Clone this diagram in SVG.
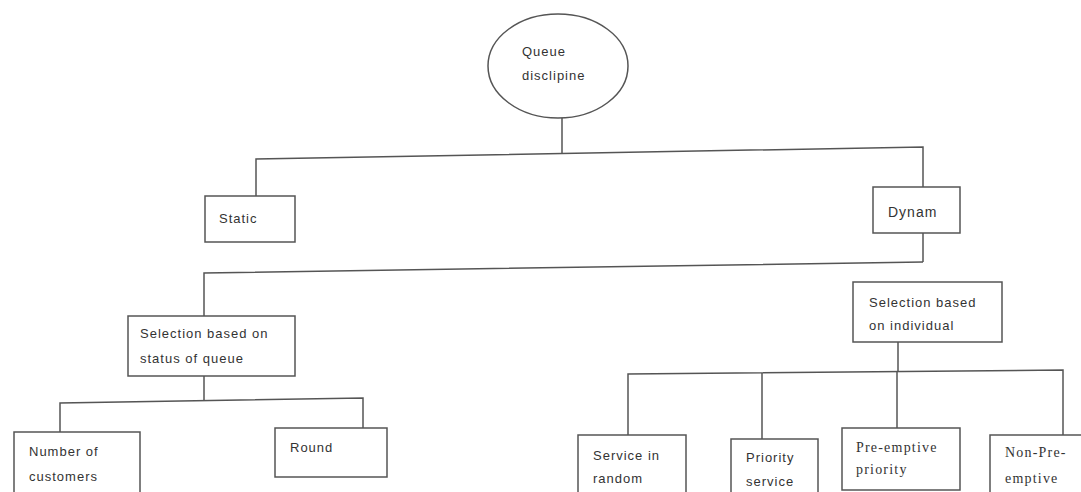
<svg xmlns="http://www.w3.org/2000/svg" width="1081" height="492" viewBox="0 0 1081 492">
<style>
.box{fill:#fff;stroke:#555;stroke-width:1.5}
.ln{fill:none;stroke:#555;stroke-width:1.5}
.t{font-family:"Liberation Sans",Arial,sans-serif;font-size:13px;letter-spacing:1px;fill:#333}
.s{font-family:"Liberation Serif","Times New Roman",serif;font-size:14px;letter-spacing:1.2px;fill:#333}
</style>
<rect width="1081" height="492" fill="#fff"/>
<g id="connectors">
<path class="ln" d="M562 118 V153"/>
<path class="ln" d="M256 196 V159 L923 147 V187"/>
<path class="ln" d="M923 233 V262"/>
<path class="ln" d="M204 316 V273 L923 262"/>
<path class="ln" d="M204 376 V401"/>
<path class="ln" d="M60 432 V403 L363 398 V428"/>
<path class="ln" d="M898 342 V372"/>
<path class="ln" d="M628 435 V374 L1063 370 V435"/>
<path class="ln" d="M762 373 V439"/>
<path class="ln" d="M897 371 V428"/>
</g>
<g id="queue-discipline">
<ellipse class="box" cx="558" cy="66" rx="70" ry="52"/>
<text class="t" x="522" y="56">Queue</text>
<text class="t" x="522" y="80">disclipine</text>
</g>
<g id="static">
<rect class="box" x="205" y="196" width="90" height="46"/>
<text class="t" x="219" y="223">Static</text>
</g>
<g id="dynam">
<rect class="box" x="873" y="187" width="87" height="46"/>
<text class="t" x="888" y="217" style="font-size:14px">Dynam</text>
</g>
<g id="selection-status">
<rect class="box" x="128" y="316" width="167" height="60"/>
<text class="t" x="140" y="338">Selection based on</text>
<text class="t" x="140" y="363">status of queue</text>
</g>
<g id="selection-individual">
<rect class="box" x="853" y="282" width="149" height="60"/>
<text class="t" x="869" y="307">Selection based</text>
<text class="t" x="869" y="330">on individual</text>
</g>
<g id="number-of-customers">
<rect class="box" x="14" y="432" width="126" height="70"/>
<text class="t" x="29" y="456">Number of</text>
<text class="t" x="29" y="481">customers</text>
</g>
<g id="round">
<rect class="box" x="275" y="428" width="112" height="49"/>
<text class="t" x="290" y="452">Round</text>
</g>
<g id="service-in-random">
<rect class="box" x="578" y="435" width="108" height="70"/>
<text class="t" x="593" y="460">Service in</text>
<text class="t" x="593" y="483">random</text>
</g>
<g id="priority-service">
<rect class="box" x="731" y="439" width="87" height="70"/>
<text class="t" x="746" y="462">Priority</text>
<text class="t" x="746" y="486">service</text>
</g>
<g id="pre-emptive-priority">
<rect class="box" x="842" y="428" width="118" height="62"/>
<text class="s" x="856" y="452">Pre-emptive</text>
<text class="s" x="856" y="474">priority</text>
</g>
<g id="non-pre-emptive">
<rect class="box" x="990" y="435" width="95" height="70"/>
<text class="s" x="1005" y="457">Non-Pre-</text>
<text class="s" x="1005" y="483">emptive</text>
</g>
</svg>
